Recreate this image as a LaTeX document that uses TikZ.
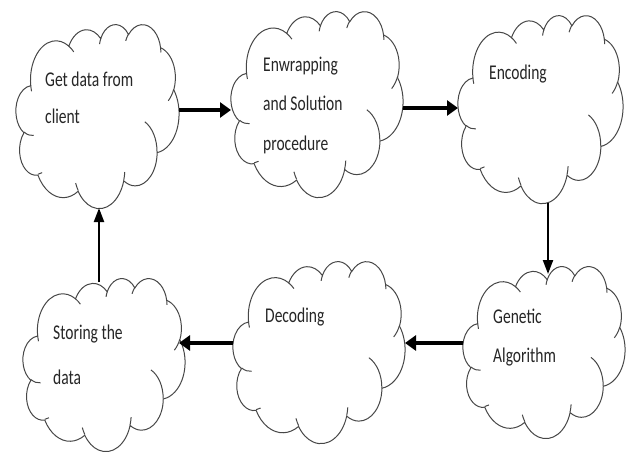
\documentclass[tikz,border=0pt]{standalone}
\usepackage{fontspec}
\setmainfont{Carlito}[FakeStretch=0.74]
\usetikzlibrary{arrows.meta}
\makeatletter
\newcommand\cloudaddarc[5]{%
  \pgfmathsetmacro\cl@ta{atan2((#2)*sin(#4),(#3)*cos(#4))}%
  \pgfmathsetmacro\cl@tb{atan2((#2)*sin(#4+#5),(#3)*cos(#4+#5))}%
  \pgfmathsetmacro\cl@dt{\cl@tb-\cl@ta}%
  \pgfmathsetmacro\cl@dt{ifthenelse(\cl@dt<0,\cl@dt+360,\cl@dt)}%
  \xdef#1{#1 arc[x radius=#2, y radius=#3, start angle=\cl@ta, delta angle=\cl@dt]}%
}
\makeatother
\def\cloudmain{(39.00,143.70)}
\cloudaddarc\cloudmain{67.53}{91.90}{-190.4875}{123.7805}
\cloudaddarc\cloudmain{53.33}{72.67}{-144.1024}{89.9452}
\cloudaddarc\cloudmain{43.65}{59.45}{-145.8079}{99.7230}
\cloudaddarc\cloudmain{48.57}{65.95}{-130.9861}{117.2417}
\cloudaddarc\cloudmain{53.33}{72.73}{-78.7089}{109.0269}
\cloudaddarc\cloudmain{67.75}{92.20}{-46.2673}{130.2690}
\cloudaddarc\cloudmain{57.85}{78.67}{0.6250}{114.0333}
\cloudaddarc\cloudmain{67.52}{92.15}{22.4516}{115.1726}
\cloudaddarc\cloudmain{77.20}{105.43}{66.2426}{75.7110}
\cloudaddarc\cloudmain{43.60}{59.18}{-274.9421}{146.7356}
\cloudaddarc\cloudmain{43.45}{59.45}{-246.8285}{152.5189}
\def\cloudinner{}
\newcommand\innerarc[6]{\xdef\cloudinner{\cloudinner (#1,#2)}\cloudaddarc\cloudinner{#3}{#4}{#5}{#6}}
\innerarc{46.93}{261.77}{43.45}{59.45}{86.7420}{26.4295}
\innerarc{69.28}{348.99}{43.60}{59.18}{73.6105}{11.4475}
\innerarc{164.78}{390.90}{67.52}{92.15}{137.6242}{14.0811}
\innerarc{288.27}{347.51}{67.52}{92.15}{6.4533}{15.9984}
\innerarc{341.29}{229.54}{57.85}{78.67}{-70.2924}{70.9174}
\innerarc{417.98}{153.54}{53.33}{72.73}{30.3180}{27.7515}
\innerarc{383.24}{54.26}{48.57}{65.95}{-13.7443}{14.8589}
\innerarc{290.78}{39.52}{48.57}{65.95}{-149.1815}{18.1954}
\innerarc{221.41}{47.20}{43.65}{59.45}{-163.4943}{17.6864}
\innerarc{140.00}{51.92}{67.53}{91.90}{-66.7070}{12.3194}
\innerarc{41.27}{157.89}{67.53}{91.90}{157.6544}{11.8582}
\tikzset{
  cloudbox/.style={inner sep=0pt, outer sep=0pt},
  cloudline/.style={draw=black!72, line width=1pt, fill=white},
  innerline/.style={draw=black!72, line width=1pt},
  label/.style={inner sep=0pt, anchor=base west, align=left, text=black!85},
  bigarrow/.style={line width=4.5pt, -{Triangle[length=11pt,width=15pt]}},
  thinarrow/.style={line width=2.2pt, -{Triangle[length=14pt,width=10pt]}},
}
\newcommand\lblfont[1]{\fontsize{21}{#1}\selectfont}
\newcommand\mycloud[5]{%
  \pgfmathsetmacro\cxs{#4/432}\pgfmathsetmacro\cys{#5/432}%
  \begin{scope}[shift={(#2-#4/2,#3-#5/2)}, x=\cxs pt, y=-\cys pt]
    \path[cloudline] \cloudmain -- cycle;
    \path[innerline] \cloudinner;
  \end{scope}
  \node[cloudbox, minimum width=#4pt, minimum height=#5pt] (#1) at (#2,#3) {};}
\begin{document}
\begin{tikzpicture}[x=1pt,y=-1pt]
\useasboundingbox[fill=white] (0,0) rectangle (632,452);
\mycloud{c1}{97.5}{116}{163}{184}
\mycloud{c2}{317}{104}{172}{186}
\mycloud{c3}{540.5}{109}{165}{188}
\mycloud{c4}{544}{352}{162}{172}
\mycloud{c5}{319}{352}{172}{182}
\mycloud{c6}{104}{364.5}{162}{173}
\node[label, font=\lblfont{37}] (t1) at (45,123) {Get data from\\client};
\node[label, font=\lblfont{39.5}] (t2) at (263,150) {Enwrapping\\and Solution\\procedure};
\node[label, font=\lblfont{38}] (t3) at (489,79) {Encoding};
\node[label, font=\lblfont{39}] (t4) at (493,362) {Genetic\\Algorithm};
\node[label, font=\lblfont{38}] (t5) at (265,322) {Decoding};
\node[label, font=\lblfont{45}] (t6) at (53,384) {Storing the\\data};
\coordinate (r1) at (0,110);
\coordinate (r2) at (0,108);
\coordinate (v3) at (548,0);
\coordinate (r4) at (0,343);
\coordinate (v6) at (99,0);
\draw[bigarrow] (c1.east |- r1) -- (c2.west |- r1);
\draw[bigarrow] (c2.east |- r2) -- (c3.west |- r2);
\draw[thinarrow, shorten >=-8pt] (c3.south -| v3) -- (c4.north -| v3);
\draw[bigarrow] (c4.west |- r4) -- (c5.east |- r4);
\draw[bigarrow, shorten >=-6pt] (c5.west |- r4) -- (c6.east |- r4);
\draw[thinarrow, shorten <=-4pt] (c6.north -| v6) -- (c1.south -| v6);
\end{tikzpicture}
\end{document}
